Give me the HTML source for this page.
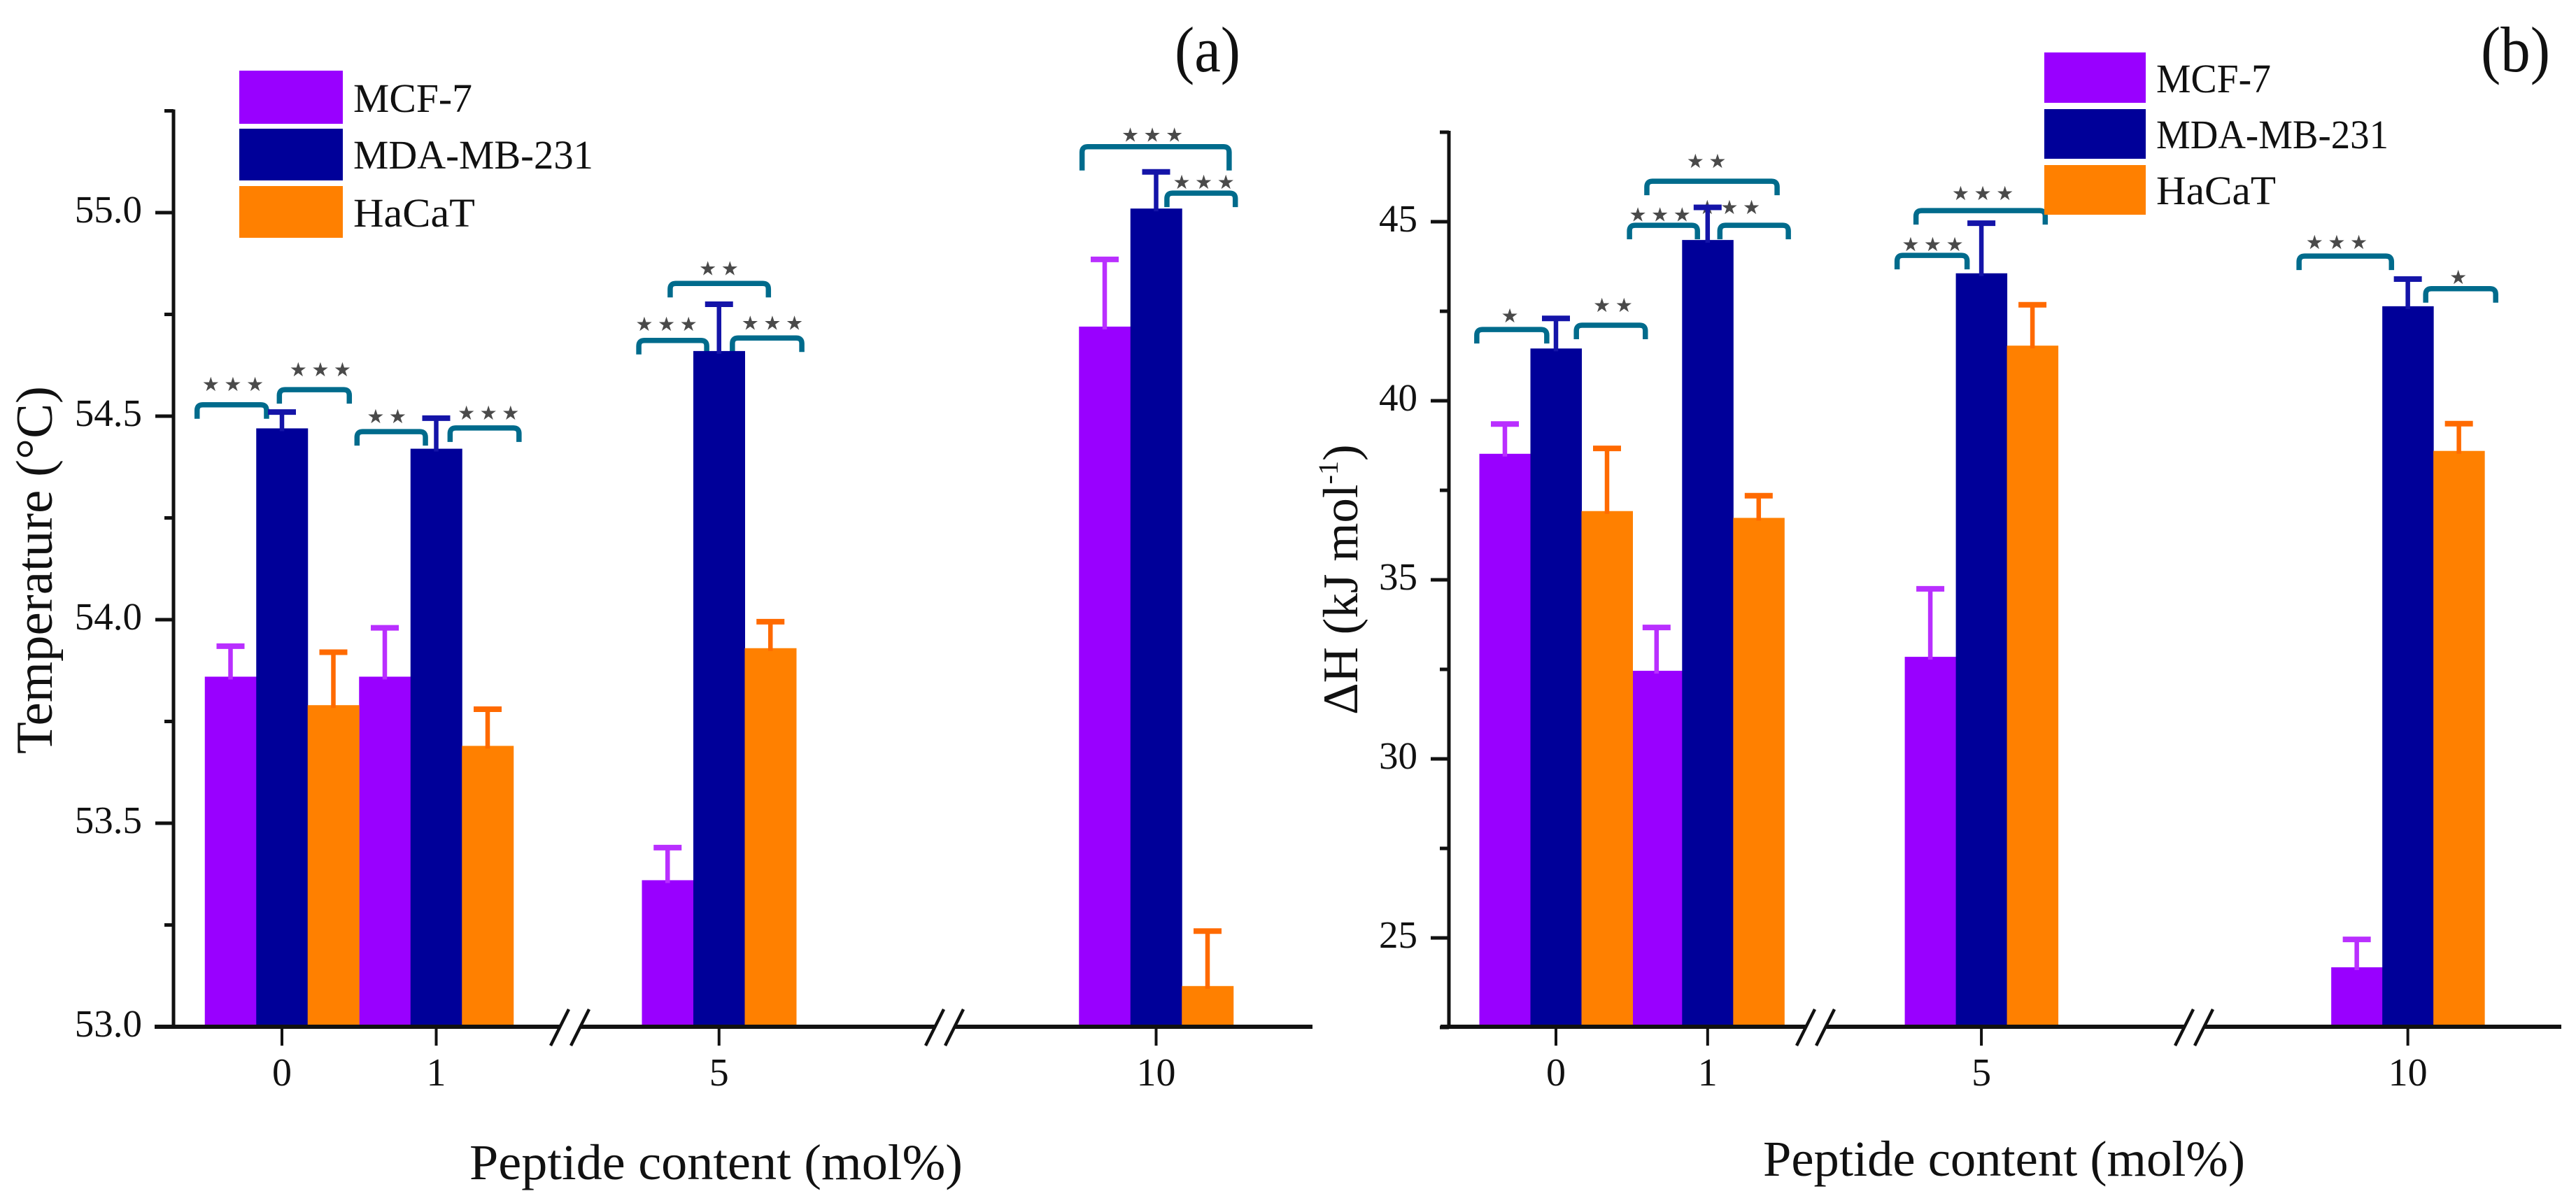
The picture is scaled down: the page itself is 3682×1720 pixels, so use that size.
<!DOCTYPE html>
<html lang="en">
<head>
<meta charset="utf-8">
<title>Peptide content vs temperature and enthalpy</title>
<style>
  html,body{margin:0;padding:0;background:#fff;}
  body{width:3682px;height:1720px;overflow:hidden;}
  svg{display:block;}
  text{font-family:"Liberation Serif","DejaVu Serif",serif;fill:#111;}
  .stars{font-family:"DejaVu Sans","Liberation Sans",sans-serif;fill:#4a4a4a;}
</style>
</head>
<body>
<svg id="figure" width="3682" height="1720" viewBox="0 0 3682 1720" xmlns="http://www.w3.org/2000/svg"></svg>
<script>
// ---- shared data ----
const categories = ['0', '1', '5', '10'];
const seriesNames = ['MCF-7', 'MDA-MB-231', 'HaCaT'];

// ---- panel (a): temperature ----
const tempMcf = [53.86, 53.86, 53.36, 54.72];
const tempMda = [54.47, 54.42, 54.66, 55.01];
const tempHacat = [53.79, 53.69, 53.93, 53.10];
const tempMcfErr = [0.075, 0.12, 0.08, 0.165];
const tempMdaErr = [0.04, 0.075, 0.115, 0.09];
const tempHacatErr = [0.13, 0.09, 0.065, 0.135];
const tempTickLabels = ['53.0', '53.5', '54.0', '54.5', '55.0'];
const tempMinorTicks = [53.25, 53.75, 54.25, 54.75, 55.25];
// significance brackets: from/to on the category scale, level on the value scale
const tempBrackets = [
  {from:-1.65, to:-0.30, level:54.528, mark:-0.95, markLevel:54.579, count:3},
  {from:-0.05, to:1.31, level:54.565, mark:0.75, markLevel:54.615, count:3},
  {from:1.46, to:2.79, level:54.462, mark:2.04, markLevel:54.50, count:2},
  {from:3.27, to:4.61, level:54.471, mark:4.02, markLevel:54.509, count:3},
  {from:6.94, to:8.26, level:54.686, mark:7.48, markLevel:54.727, count:3},
  {from:8.76, to:10.11, level:54.692, mark:9.54, markLevel:54.729, count:3},
  {from:7.55, to:9.46, level:54.826, mark:8.50, markLevel:54.863, count:2},
  {from:15.56, to:18.42, level:55.162, mark:16.93, markLevel:55.192, count:3, long:true},
  {from:17.21, to:18.54, level:55.048, mark:17.93, markLevel:55.076, count:3}
];

// ---- panel (b): enthalpy ----
const enthMcf = [38.52, 32.46, 32.85, 24.18];
const enthMda = [41.46, 44.49, 43.56, 42.64];
const enthHacat = [36.92, 36.73, 41.54, 38.60];
const enthMcfErr = [0.83, 1.21, 1.90, 0.78];
const enthMdaErr = [0.84, 0.91, 1.40, 0.76];
const enthHacatErr = [1.75, 0.62, 1.14, 0.76];
const enthTickLabels = ['25', '30', '35', '40', '45'];
const enthMinorTicks = [22.5, 27.5, 32.5, 37.5, 42.5, 47.5];
const enthBrackets = [
  {from:-1.55, to:-0.18, level:41.99, mark:-0.90, markLevel:42.38, count:1},
  {from:0.40, to:1.75, level:42.11, mark:1.12, markLevel:42.68, count:2},
  {from:1.44, to:2.77, level:44.90, mark:2.04, markLevel:45.21, count:3},
  {from:3.21, to:4.55, level:44.90, mark:3.40, markLevel:45.41, count:3},
  {from:1.78, to:4.33, level:46.13, mark:2.95, markLevel:46.70, count:2},
  {from:6.68, to:8.05, level:44.06, mark:7.38, markLevel:44.38, count:3},
  {from:7.05, to:9.58, level:45.31, mark:8.36, markLevel:45.80, count:3},
  {from:14.55, to:16.36, level:44.04, mark:15.29, markLevel:44.43, count:3},
  {from:17.03, to:18.40, level:43.13, mark:17.67, markLevel:43.46, count:1}
];

const svg = document.getElementById('figure');
const NS = 'http://www.w3.org/2000/svg';
const barColors = ['#9900ff', '#000099', '#ff8000'];
const errColors = ['#b92fff', '#1414a8', '#ff6a00'];

function mk(tag, attrs, parent, txt) {
  const n = document.createElementNS(NS, tag);
  for (const k in attrs) n.setAttribute(k, attrs[k]);
  if (txt !== undefined) n.textContent = txt;
  parent.appendChild(n);
  return n;
}

function drawPanel(p) {
  const root = mk('g', {}, svg);
  
  

  // axis functions
  const yOf = v => p.baseY - (v - p.yMin) * p.pxPerUnit;
  const xOf = s => p.x0 + s * p.barW;
  const tickX = i => xOf(p.slots[i]);

  // significance brackets sit under the bars and error bars
  p.brackets.forEach(b => {
    const x1 = xOf(b.from), x2 = xOf(b.to), y = yOf(b.level);
    const leg = b.long ? 34 : 20, r = 8;
    let el = mk('path', {
      d: 'M' + x1 + ' ' + (y + leg) + 'V' + (y + r) + 'Q' + x1 + ' ' + y + ' ' + (x1 + r) + ' ' + y +
         'H' + (x2 - r) + 'Q' + x2 + ' ' + y + ' ' + x2 + ' ' + (y + r) + 'V' + (y + leg),
      fill: 'none', stroke: '#006b8c', 'stroke-width': 7.5
    }, root);
    
    
    el = mk('text', {
      class: 'stars', x: xOf(b.mark) + 3, y: yOf(b.markLevel) + 10,
      'text-anchor': 'middle', 'font-size': 28, 'letter-spacing': 6.5
    }, root, '\u2605'.repeat(b.count));
    
    
  });

  // bars
  p.values.forEach((vals, s) => {
    vals.forEach((v, i) => {
      const left = tickX(i) + (s - 1.5) * p.barW;
      const el = mk('rect', {
        x: left, y: yOf(v), width: p.barW + 0.5, height: p.baseY - yOf(v), fill: barColors[s]
      }, root);
      
      
    });
  });

  // error bars
  p.errors.forEach((errs, s) => {
    errs.forEach((e, i) => {
      const cx = tickX(i) + (s - 1) * p.barW;
      const top = yOf(p.values[s][i] + e);
      const bottom = yOf(p.values[s][i]) + 4;
      let el = mk('line', {x1: cx, x2: cx, y1: top, y2: bottom, stroke: errColors[s], 'stroke-width': 6.5}, root);
      
      
      el = mk('line', {x1: cx - 20, x2: cx + 20, y1: top, y2: top, stroke: errColors[s], 'stroke-width': 8}, root);
      
      
    });
  });

  // y axis
  let el = mk('line', {x1: p.axisX, x2: p.axisX, y1: yOf(p.yTop) - 2, y2: p.baseY + 2, stroke: '#111', 'stroke-width': 5}, root);
  
  

  p.tickLabels.forEach(t => {
    const y = yOf(parseFloat(t));
    let n = mk('line', {x1: p.axisX - 26, x2: p.axisX, y1: y, y2: y, stroke: '#111', 'stroke-width': 5}, root);
    
    
    n = mk('text', {x: p.axisX - 45, y: y + 14, 'text-anchor': 'end', 'font-size': 55}, root, t);
    
    
  });
  p.minorTicks.forEach(v => {
    const y = yOf(v);
    const n = mk('line', {x1: p.axisX - 13, x2: p.axisX, y1: y, y2: y, stroke: '#111', 'stroke-width': 5}, root);
    
    
  });

  // x axis, broken at each axis break
  const stops = [p.xStart].concat(p.breaks.flat(), [p.xEnd]);
  for (let i = 0; i < stops.length; i += 2) {
    const n = mk('line', {x1: stops[i], x2: stops[i + 1], y1: p.baseY, y2: p.baseY, stroke: '#111', 'stroke-width': 6}, root);
    
    
  }
  p.breaks.flat().forEach(c => {
    const n = mk('line', {x1: c + 13, x2: c - 13, y1: p.baseY - 25, y2: p.baseY + 27, stroke: '#111', 'stroke-width': 4.5}, root);
    
    
  });

  categories.forEach((c, i) => {
    const x = tickX(i);
    let n = mk('line', {x1: x, x2: x, y1: p.baseY, y2: p.baseY + 27, stroke: '#111', 'stroke-width': 4}, root);
    
    
    n = mk('text', {x: x, y: p.baseY + 84, 'text-anchor': 'middle', 'font-size': 56}, root, c);
    
    
  });

  // axis titles
  el = mk('text', {x: p.xLabel.x, y: p.xLabel.y, 'font-size': 72, textLength: p.xLabel.len, lengthAdjust: 'spacingAndGlyphs'}, root, 'Peptide content (mol%)');
  
  
  p.yTitle(root);

  // panel letter
  el = mk('text', {x: p.letter.x, y: 102, 'font-size': 92, textLength: p.letter.len, lengthAdjust: 'spacingAndGlyphs'}, root, p.letter.text);
  
  

  // legend
  p.legend.forEach((row, s) => {
    const g = mk('g', {}, root);
    
    
    let n = mk('rect', {x: p.legendX, y: row.top, width: p.legendW, height: row.h, fill: barColors[s]}, g);
    
    
    n = mk('text', {x: p.legendTextX, y: row.base, 'font-size': 58, textLength: row.len, lengthAdjust: 'spacingAndGlyphs'}, g, seriesNames[s]);
    
    
  });
}

drawPanel({
  id: 'a', baseY: 1468, yMin: 53, yTop: 55.25, pxPerUnit: 582,
  x0: 403, barW: 73.5, slots: [0, 3, 8.5, 17],
  axisX: 248, xStart: 221, xEnd: 1876,
  breaks: [[800, 829], [1336, 1364]],
  values: [tempMcf, tempMda, tempHacat],
  errors: [tempMcfErr, tempMdaErr, tempHacatErr],
  tickLabels: tempTickLabels, minorTicks: tempMinorTicks, brackets: tempBrackets,
  xLabel: {x: 671, y: 1686, len: 705},
  letter: {x: 1679, len: 94, text: '(a)'},
  legendX: 342, legendW: 148, legendTextX: 505,
  legend: [
    {top: 101, h: 76, base: 160, len: 170},
    {top: 184, h: 74, base: 241, len: 343},
    {top: 266, h: 74, base: 324, len: 174}
  ],
  yTitle: function (root) {
    const t = mk('text', {transform: 'translate(74 1078) rotate(-90)', 'font-size': 74, textLength: 526, lengthAdjust: 'spacingAndGlyphs'}, root, 'Temperature (\u00B0C)');
    
    
  }
});

drawPanel({
  id: 'b', baseY: 1468, yMin: 22.52, yTop: 47.5, pxPerUnit: 51.2,
  x0: 2224, barW: 73, slots: [0, 2.97, 8.33, 16.68],
  axisX: 2071, xStart: 2059, xEnd: 3661,
  breaks: [[2581, 2609], [3122, 3150]],
  values: [enthMcf, enthMda, enthHacat],
  errors: [enthMcfErr, enthMdaErr, enthHacatErr],
  tickLabels: enthTickLabels, minorTicks: enthMinorTicks, brackets: enthBrackets,
  xLabel: {x: 2520, y: 1681, len: 689},
  letter: {x: 3546, len: 99, text: '(b)'},
  legendX: 2922, legendW: 145, legendTextX: 3082,
  legend: [
    {top: 75, h: 72, base: 132, len: 164},
    {top: 156, h: 71, base: 212, len: 332},
    {top: 236, h: 71, base: 292, len: 171}
  ],
  yTitle: function (root) {
    const t = mk('text', {transform: 'translate(1940 1022) rotate(-90)', 'font-size': 71}, root, '\u0394H (kJ mol');
    
    
    mk('tspan', {dy: -28, 'font-size': 40}, t, '-1');
    mk('tspan', {dy: 28}, t, ')');
  }
});
</script>
</body>
</html>
